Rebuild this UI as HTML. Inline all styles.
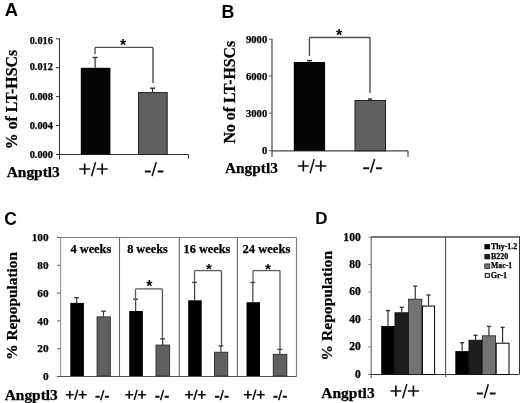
<!DOCTYPE html>
<html><head><meta charset="utf-8"><style>
html,body{margin:0;padding:0;background:#fff;width:520px;height:403px;overflow:hidden}
svg{display:block;filter:blur(0.3px)}
</style></head><body>
<svg width="520" height="403" viewBox="0 0 520 403">
<rect width="520" height="403" fill="#fff"/>
<text x="4.76" y="16.43" style="font-family:'Liberation Sans',sans-serif;font-weight:bold;font-size:18.38px" text-anchor="start">A</text>
<line x1="59.5" y1="38.5" x2="59.5" y2="159.5" stroke="#333" stroke-width="1"/>
<line x1="56" y1="38.8" x2="59.5" y2="38.8" stroke="#333" stroke-width="1"/>
<text x="52.90" y="44.20" style="font-family:'Liberation Serif',serif;font-weight:bold;stroke:#000;stroke-width:0.25px;font-size:10.32px" text-anchor="end">0.016</text>
<line x1="56" y1="67.6" x2="59.5" y2="67.6" stroke="#333" stroke-width="1"/>
<text x="52.90" y="70.30" style="font-family:'Liberation Serif',serif;font-weight:bold;stroke:#000;stroke-width:0.25px;font-size:10.32px" text-anchor="end">0.012</text>
<line x1="56" y1="96.6" x2="59.5" y2="96.6" stroke="#333" stroke-width="1"/>
<text x="52.90" y="99.80" style="font-family:'Liberation Serif',serif;font-weight:bold;stroke:#000;stroke-width:0.25px;font-size:10.32px" text-anchor="end">0.008</text>
<line x1="56" y1="125.5" x2="59.5" y2="125.5" stroke="#333" stroke-width="1"/>
<text x="52.90" y="129.30" style="font-family:'Liberation Serif',serif;font-weight:bold;stroke:#000;stroke-width:0.25px;font-size:10.32px" text-anchor="end">0.004</text>
<line x1="56" y1="154.5" x2="59.5" y2="154.5" stroke="#333" stroke-width="1"/>
<text x="52.90" y="157.60" style="font-family:'Liberation Serif',serif;font-weight:bold;stroke:#000;stroke-width:0.25px;font-size:10.32px" text-anchor="end">0.000</text>
<line x1="59.5" y1="154.5" x2="188.5" y2="154.5" stroke="#333" stroke-width="1"/>
<line x1="188.5" y1="154.5" x2="188.5" y2="158.5" stroke="#333" stroke-width="1"/>
<rect x="80.80" y="67.80" width="29.60" height="86.70" fill="#050505"/>
<rect x="138.50" y="92.60" width="28.70" height="61.90" fill="#606060" stroke="#222" stroke-width="1"/>
<line x1="95.1" y1="57.5" x2="95.1" y2="67.8" stroke="#2a2a2a" stroke-width="1.2"/>
<line x1="92.6" y1="57.5" x2="97.6" y2="57.5" stroke="#2a2a2a" stroke-width="1.38"/>
<line x1="152.5" y1="88.2" x2="152.5" y2="92.1" stroke="#2a2a2a" stroke-width="1.2"/>
<line x1="150.0" y1="88.2" x2="155.0" y2="88.2" stroke="#2a2a2a" stroke-width="1.38"/>
<line x1="95" y1="47.4" x2="153" y2="47.4" stroke="#505050" stroke-width="1.4"/>
<line x1="95" y1="47.4" x2="95" y2="54" stroke="#505050" stroke-width="1.4"/>
<line x1="153" y1="47.4" x2="153" y2="83" stroke="#505050" stroke-width="1.4"/>
<text x="119.89" y="51.02" style="font-family:'Liberation Sans',sans-serif;font-weight:bold;font-size:15.68px" text-anchor="start">*</text>
<text transform="translate(17.10,149.19) rotate(-90)" style="font-family:'Liberation Serif',serif;font-weight:bold;stroke:#000;stroke-width:0.25px;font-size:15.86px">% of LT-HSCs</text>
<text x="6.70" y="176.94" style="font-family:'Liberation Serif',serif;font-weight:bold;stroke:#000;stroke-width:0.25px;font-size:15.43px" text-anchor="start">Angptl3</text>
<path d="M79.20 169.00H90.20M84.70 163.50V174.50" stroke="#111" stroke-width="1.7" fill="none"/>
<path d="M91.50 176.20L95.60 162.10" stroke="#111" stroke-width="1.53" fill="none"/>
<path d="M96.70 169.00H107.70M102.20 163.50V174.50" stroke="#111" stroke-width="1.7" fill="none"/>
<path d="M144.80 171.50H150.80M157.70 171.50H163.50" stroke="#111" stroke-width="2.10" fill="none"/>
<path d="M152.10 176.10L156.20 162.30" stroke="#111" stroke-width="1.57" fill="none"/>
<text x="221.47" y="18.30" style="font-family:'Liberation Sans',sans-serif;font-weight:bold;font-size:17.83px" text-anchor="start">B</text>
<line x1="272" y1="39" x2="272" y2="157" stroke="#555" stroke-width="1.3"/>
<line x1="269" y1="39.2" x2="272" y2="39.2" stroke="#555" stroke-width="1"/>
<text x="267.20" y="42.70" style="font-family:'Liberation Serif',serif;font-weight:bold;stroke:#000;stroke-width:0.25px;font-size:10.62px" text-anchor="end">9000</text>
<line x1="269" y1="76" x2="272" y2="76" stroke="#555" stroke-width="1"/>
<text x="267.20" y="79.50" style="font-family:'Liberation Serif',serif;font-weight:bold;stroke:#000;stroke-width:0.25px;font-size:10.62px" text-anchor="end">6000</text>
<line x1="269" y1="113.2" x2="272" y2="113.2" stroke="#555" stroke-width="1"/>
<text x="267.20" y="116.70" style="font-family:'Liberation Serif',serif;font-weight:bold;stroke:#000;stroke-width:0.25px;font-size:10.62px" text-anchor="end">3000</text>
<line x1="269" y1="150.7" x2="272" y2="150.7" stroke="#555" stroke-width="1"/>
<text x="267.20" y="154.20" style="font-family:'Liberation Serif',serif;font-weight:bold;stroke:#000;stroke-width:0.25px;font-size:10.62px" text-anchor="end">0</text>
<line x1="272" y1="150.9" x2="408" y2="150.9" stroke="#444" stroke-width="1.3"/>
<line x1="408" y1="150.9" x2="408" y2="157" stroke="#555" stroke-width="1.2"/>
<rect x="293.80" y="62.00" width="31.30" height="88.80" fill="#050505"/>
<rect x="355.00" y="100.50" width="30.50" height="50.30" fill="#606060" stroke="#222" stroke-width="1"/>
<line x1="309.5" y1="60.6" x2="309.5" y2="62" stroke="#2a2a2a" stroke-width="1.2"/>
<line x1="307.0" y1="60.6" x2="312.0" y2="60.6" stroke="#2a2a2a" stroke-width="1.38"/>
<line x1="370" y1="99" x2="370" y2="100.5" stroke="#2a2a2a" stroke-width="1.2"/>
<line x1="368.0" y1="99" x2="372.0" y2="99" stroke="#2a2a2a" stroke-width="1.38"/>
<line x1="309.4" y1="37.5" x2="370" y2="37.5" stroke="#505050" stroke-width="1.4"/>
<line x1="309.4" y1="37.5" x2="309.4" y2="56" stroke="#505050" stroke-width="1.4"/>
<line x1="370" y1="37.5" x2="370" y2="93" stroke="#505050" stroke-width="1.4"/>
<text x="335.89" y="40.89" style="font-family:'Liberation Sans',sans-serif;font-weight:bold;font-size:16.22px" text-anchor="start">*</text>
<text transform="translate(235.09,143.52) rotate(-90)" style="font-family:'Liberation Serif',serif;font-weight:bold;stroke:#000;stroke-width:0.25px;font-size:15.84px">No of LT-HSCs</text>
<text x="225.05" y="172.87" style="font-family:'Liberation Serif',serif;font-weight:bold;stroke:#000;stroke-width:0.25px;font-size:15.32px" text-anchor="start">Angptl3</text>
<path d="M297.80 166.00H308.80M303.30 160.50V171.50" stroke="#111" stroke-width="1.7" fill="none"/>
<path d="M310.10 173.20L314.20 159.10" stroke="#111" stroke-width="1.53" fill="none"/>
<path d="M315.30 166.00H326.30M320.80 160.50V171.50" stroke="#111" stroke-width="1.7" fill="none"/>
<path d="M363.20 168.20H369.20M376.10 168.20H381.90" stroke="#111" stroke-width="2.10" fill="none"/>
<path d="M370.50 172.80L374.60 159.00" stroke="#111" stroke-width="1.57" fill="none"/>
<text x="4.18" y="224.63" style="font-family:'Liberation Sans',sans-serif;font-weight:bold;font-size:17.46px" text-anchor="start">C</text>
<line x1="60.6" y1="237.5" x2="60.6" y2="376.5" stroke="#a0a0a0" stroke-width="1.2"/>
<line x1="60.6" y1="237.5" x2="296.5" y2="237.5" stroke="#808080" stroke-width="1.2"/>
<line x1="296.5" y1="237.5" x2="296.5" y2="376.5" stroke="#808080" stroke-width="1.2"/>
<line x1="119.5" y1="237.5" x2="119.5" y2="376.5" stroke="#666" stroke-width="1.1"/>
<line x1="179.3" y1="237.5" x2="179.3" y2="376.5" stroke="#666" stroke-width="1.1"/>
<line x1="237.4" y1="237.5" x2="237.4" y2="376.5" stroke="#666" stroke-width="1.1"/>
<line x1="57" y1="237.5" x2="60.6" y2="237.5" stroke="#666" stroke-width="1"/>
<text x="48.60" y="241.20" style="font-family:'Liberation Serif',serif;font-weight:bold;stroke:#000;stroke-width:0.25px;font-size:11.30px" text-anchor="end">100</text>
<line x1="57" y1="265.3" x2="60.6" y2="265.3" stroke="#666" stroke-width="1"/>
<text x="48.60" y="269.00" style="font-family:'Liberation Serif',serif;font-weight:bold;stroke:#000;stroke-width:0.25px;font-size:11.30px" text-anchor="end">80</text>
<line x1="57" y1="293.1" x2="60.6" y2="293.1" stroke="#666" stroke-width="1"/>
<text x="48.60" y="296.80" style="font-family:'Liberation Serif',serif;font-weight:bold;stroke:#000;stroke-width:0.25px;font-size:11.30px" text-anchor="end">60</text>
<line x1="57" y1="320.9" x2="60.6" y2="320.9" stroke="#666" stroke-width="1"/>
<text x="48.60" y="324.60" style="font-family:'Liberation Serif',serif;font-weight:bold;stroke:#000;stroke-width:0.25px;font-size:11.30px" text-anchor="end">40</text>
<line x1="57" y1="348.7" x2="60.6" y2="348.7" stroke="#666" stroke-width="1"/>
<text x="48.60" y="352.40" style="font-family:'Liberation Serif',serif;font-weight:bold;stroke:#000;stroke-width:0.25px;font-size:11.30px" text-anchor="end">20</text>
<line x1="57" y1="376.5" x2="60.6" y2="376.5" stroke="#666" stroke-width="1"/>
<text x="48.60" y="380.20" style="font-family:'Liberation Serif',serif;font-weight:bold;stroke:#000;stroke-width:0.25px;font-size:11.30px" text-anchor="end">0</text>
<line x1="57" y1="376.5" x2="296.5" y2="376.5" stroke="#555" stroke-width="1"/>
<text x="70.48" y="253.32" style="font-family:'Liberation Serif',serif;font-weight:bold;stroke:#000;stroke-width:0.25px;font-size:12.35px" text-anchor="start">4 weeks</text>
<text x="127.13" y="253.29" style="font-family:'Liberation Serif',serif;font-weight:bold;stroke:#000;stroke-width:0.25px;font-size:12.31px" text-anchor="start">8 weeks</text>
<text x="183.52" y="253.29" style="font-family:'Liberation Serif',serif;font-weight:bold;stroke:#000;stroke-width:0.25px;font-size:12.30px" text-anchor="start">16 weeks</text>
<text x="242.50" y="253.47" style="font-family:'Liberation Serif',serif;font-weight:bold;stroke:#000;stroke-width:0.25px;font-size:12.57px" text-anchor="start">24 weeks</text>
<rect x="70.30" y="302.90" width="13.60" height="73.10" fill="#000"/>
<rect x="97.10" y="316.90" width="13.20" height="59.10" fill="#606060" stroke="#333" stroke-width="1"/>
<line x1="76.69999999999999" y1="297.7" x2="76.69999999999999" y2="302.9" stroke="#404040" stroke-width="1.2"/>
<line x1="74.29999999999998" y1="297.7" x2="79.1" y2="297.7" stroke="#404040" stroke-width="1.38"/>
<line x1="103.49999999999999" y1="311.2" x2="103.49999999999999" y2="316.9" stroke="#404040" stroke-width="1.2"/>
<line x1="101.09999999999998" y1="311.2" x2="105.89999999999999" y2="311.2" stroke="#404040" stroke-width="1.38"/>
<rect x="129.20" y="311.00" width="13.70" height="65.00" fill="#000"/>
<rect x="156.00" y="345.10" width="13.60" height="30.90" fill="#606060" stroke="#333" stroke-width="1"/>
<line x1="135.65" y1="299.2" x2="135.65" y2="311" stroke="#404040" stroke-width="1.2"/>
<line x1="133.25" y1="299.2" x2="138.05" y2="299.2" stroke="#404040" stroke-width="1.38"/>
<line x1="162.60000000000002" y1="338.8" x2="162.60000000000002" y2="345.1" stroke="#404040" stroke-width="1.2"/>
<line x1="160.20000000000002" y1="338.8" x2="165.00000000000003" y2="338.8" stroke="#404040" stroke-width="1.38"/>
<line x1="135.5" y1="288.9" x2="162.4" y2="288.9" stroke="#5e5e5e" stroke-width="1.3"/>
<line x1="135.5" y1="288.9" x2="135.5" y2="301.4" stroke="#5e5e5e" stroke-width="1.3"/>
<line x1="162.4" y1="288.9" x2="162.4" y2="338" stroke="#555" stroke-width="1.3"/>
<text x="146.29" y="292.30" style="font-family:'Liberation Sans',sans-serif;font-weight:bold;font-size:15.95px" text-anchor="start">*</text>
<rect x="188.20" y="300.30" width="13.50" height="75.70" fill="#000"/>
<rect x="214.50" y="352.30" width="13.20" height="23.70" fill="#606060" stroke="#333" stroke-width="1"/>
<line x1="194.54999999999998" y1="282.4" x2="194.54999999999998" y2="300.3" stroke="#404040" stroke-width="1.2"/>
<line x1="192.14999999999998" y1="282.4" x2="196.95" y2="282.4" stroke="#404040" stroke-width="1.38"/>
<line x1="220.9" y1="346" x2="220.9" y2="352.3" stroke="#404040" stroke-width="1.2"/>
<line x1="218.5" y1="346" x2="223.3" y2="346" stroke="#404040" stroke-width="1.38"/>
<line x1="194.5" y1="270.6" x2="221.5" y2="270.6" stroke="#5e5e5e" stroke-width="1.3"/>
<line x1="194.5" y1="270.6" x2="194.5" y2="282.4" stroke="#5e5e5e" stroke-width="1.3"/>
<line x1="221.5" y1="270.6" x2="221.5" y2="346" stroke="#555" stroke-width="1.3"/>
<text x="205.90" y="273.84" style="font-family:'Liberation Sans',sans-serif;font-weight:bold;font-size:15.14px" text-anchor="start">*</text>
<rect x="246.50" y="302.20" width="13.50" height="73.80" fill="#000"/>
<rect x="273.30" y="354.40" width="13.50" height="21.60" fill="#606060" stroke="#333" stroke-width="1"/>
<line x1="252.85" y1="282.5" x2="252.85" y2="302.2" stroke="#404040" stroke-width="1.2"/>
<line x1="250.45" y1="282.5" x2="255.25" y2="282.5" stroke="#404040" stroke-width="1.38"/>
<line x1="279.85" y1="349.4" x2="279.85" y2="354.4" stroke="#404040" stroke-width="1.2"/>
<line x1="277.45000000000005" y1="349.4" x2="282.25" y2="349.4" stroke="#404040" stroke-width="1.38"/>
<line x1="253" y1="270.6" x2="280" y2="270.6" stroke="#5e5e5e" stroke-width="1.3"/>
<line x1="253" y1="270.6" x2="253" y2="282.5" stroke="#5e5e5e" stroke-width="1.3"/>
<line x1="280" y1="270.6" x2="280" y2="349.4" stroke="#555" stroke-width="1.3"/>
<text x="264.95" y="273.84" style="font-family:'Liberation Sans',sans-serif;font-weight:bold;font-size:15.14px" text-anchor="start">*</text>
<text transform="translate(17.48,359.73) rotate(-90)" style="font-family:'Liberation Serif',serif;font-weight:bold;stroke:#000;stroke-width:0.25px;font-size:15.34px">% Repopulation</text>
<text x="4.70" y="399.94" style="font-family:'Liberation Serif',serif;font-weight:bold;stroke:#000;stroke-width:0.25px;font-size:15.43px" text-anchor="start">Angptl3</text>
<path d="M65.80 394.76H73.83M69.81 390.74V398.77" stroke="#111" stroke-width="1.7" fill="none"/>
<path d="M74.78 400.01L77.77 389.72" stroke="#111" stroke-width="1.53" fill="none"/>
<path d="M78.58 394.76H86.60M82.59 390.74V398.77" stroke="#111" stroke-width="1.7" fill="none"/>
<path d="M125.20 394.76H133.23M129.22 390.74V398.77" stroke="#111" stroke-width="1.7" fill="none"/>
<path d="M134.18 400.01L137.17 389.72" stroke="#111" stroke-width="1.53" fill="none"/>
<path d="M137.97 394.76H146.00M141.99 390.74V398.77" stroke="#111" stroke-width="1.7" fill="none"/>
<path d="M185.00 394.76H193.03M189.01 390.74V398.77" stroke="#111" stroke-width="1.7" fill="none"/>
<path d="M193.98 400.01L196.97 389.72" stroke="#111" stroke-width="1.53" fill="none"/>
<path d="M197.78 394.76H205.81M201.79 390.74V398.77" stroke="#111" stroke-width="1.7" fill="none"/>
<path d="M243.90 394.76H251.93M247.91 390.74V398.77" stroke="#111" stroke-width="1.7" fill="none"/>
<path d="M252.88 400.01L255.87 389.72" stroke="#111" stroke-width="1.53" fill="none"/>
<path d="M256.68 394.76H264.70M260.69 390.74V398.77" stroke="#111" stroke-width="1.7" fill="none"/>
<path d="M95.40 396.83H99.78M104.82 396.83H109.05" stroke="#111" stroke-width="2.04" fill="none"/>
<path d="M100.73 400.19L103.72 390.12" stroke="#111" stroke-width="1.53" fill="none"/>
<path d="M155.20 396.83H159.58M164.62 396.83H168.85" stroke="#111" stroke-width="2.04" fill="none"/>
<path d="M160.53 400.19L163.52 390.12" stroke="#111" stroke-width="1.53" fill="none"/>
<path d="M215.00 396.83H219.38M224.42 396.83H228.65" stroke="#111" stroke-width="2.04" fill="none"/>
<path d="M220.33 400.19L223.32 390.12" stroke="#111" stroke-width="1.53" fill="none"/>
<path d="M273.30 396.83H277.68M282.72 396.83H286.95" stroke="#111" stroke-width="2.04" fill="none"/>
<path d="M278.63 400.19L281.62 390.12" stroke="#111" stroke-width="1.53" fill="none"/>
<text x="315.34" y="224.10" style="font-family:'Liberation Sans',sans-serif;font-weight:bold;font-size:16.96px" text-anchor="start">D</text>
<line x1="371.2" y1="237" x2="371.2" y2="378" stroke="#707070" stroke-width="1.2"/>
<line x1="371.2" y1="237" x2="520" y2="237" stroke="#4a4a4a" stroke-width="1.3"/>
<line x1="519.5" y1="236.5" x2="519.5" y2="374.5" stroke="#333" stroke-width="1"/>
<line x1="445.6" y1="237" x2="445.6" y2="377" stroke="#555" stroke-width="1.1"/>
<line x1="368.5" y1="374.5" x2="519" y2="374.5" stroke="#333" stroke-width="1"/>
<line x1="368.5" y1="237.2" x2="371.2" y2="237.2" stroke="#777" stroke-width="1"/>
<text x="360.80" y="240.60" style="font-family:'Liberation Serif',serif;font-weight:bold;stroke:#000;stroke-width:0.25px;font-size:11.67px" text-anchor="end">100</text>
<line x1="368.5" y1="264.59999999999997" x2="371.2" y2="264.59999999999997" stroke="#777" stroke-width="1"/>
<text x="360.80" y="268.00" style="font-family:'Liberation Serif',serif;font-weight:bold;stroke:#000;stroke-width:0.25px;font-size:11.67px" text-anchor="end">80</text>
<line x1="368.5" y1="292.0" x2="371.2" y2="292.0" stroke="#777" stroke-width="1"/>
<text x="360.80" y="295.40" style="font-family:'Liberation Serif',serif;font-weight:bold;stroke:#000;stroke-width:0.25px;font-size:11.67px" text-anchor="end">60</text>
<line x1="368.5" y1="319.4" x2="371.2" y2="319.4" stroke="#777" stroke-width="1"/>
<text x="360.80" y="322.80" style="font-family:'Liberation Serif',serif;font-weight:bold;stroke:#000;stroke-width:0.25px;font-size:11.67px" text-anchor="end">40</text>
<line x1="368.5" y1="346.79999999999995" x2="371.2" y2="346.79999999999995" stroke="#777" stroke-width="1"/>
<text x="360.80" y="350.20" style="font-family:'Liberation Serif',serif;font-weight:bold;stroke:#000;stroke-width:0.25px;font-size:11.67px" text-anchor="end">20</text>
<line x1="368.5" y1="374.2" x2="371.2" y2="374.2" stroke="#777" stroke-width="1"/>
<text x="360.80" y="377.60" style="font-family:'Liberation Serif',serif;font-weight:bold;stroke:#000;stroke-width:0.25px;font-size:11.67px" text-anchor="end">0</text>
<rect x="381.20" y="326.00" width="13.60" height="48.50" fill="#000"/>
<line x1="388.0" y1="310.6" x2="388.0" y2="326" stroke="#333" stroke-width="1.2"/>
<line x1="386.0" y1="310.6" x2="390.0" y2="310.6" stroke="#333" stroke-width="1.38"/>
<rect x="394.90" y="312.70" width="13.70" height="61.80" fill="#1e1e1e" stroke="#000" stroke-width="0.6"/>
<line x1="401.75" y1="307.3" x2="401.75" y2="312.7" stroke="#333" stroke-width="1.2"/>
<line x1="399.75" y1="307.3" x2="403.75" y2="307.3" stroke="#333" stroke-width="1.38"/>
<rect x="408.60" y="299.10" width="13.30" height="75.40" fill="#737373" stroke="#000" stroke-width="0.6"/>
<line x1="415.25" y1="286.2" x2="415.25" y2="299.1" stroke="#333" stroke-width="1.2"/>
<line x1="413.25" y1="286.2" x2="417.25" y2="286.2" stroke="#333" stroke-width="1.38"/>
<rect x="422.40" y="306.10" width="12.20" height="68.40" fill="#fff" stroke="#000" stroke-width="1"/>
<line x1="428.5" y1="295" x2="428.5" y2="305.6" stroke="#333" stroke-width="1.2"/>
<line x1="426.5" y1="295" x2="430.5" y2="295" stroke="#333" stroke-width="1.38"/>
<rect x="455.30" y="351.10" width="13.60" height="23.40" fill="#000"/>
<line x1="462.1" y1="342.7" x2="462.1" y2="351.1" stroke="#333" stroke-width="1.2"/>
<line x1="460.1" y1="342.7" x2="464.1" y2="342.7" stroke="#333" stroke-width="1.38"/>
<rect x="468.90" y="340.10" width="13.30" height="34.40" fill="#1e1e1e" stroke="#000" stroke-width="0.6"/>
<line x1="475.54999999999995" y1="335.3" x2="475.54999999999995" y2="340.1" stroke="#333" stroke-width="1.2"/>
<line x1="473.54999999999995" y1="335.3" x2="477.54999999999995" y2="335.3" stroke="#333" stroke-width="1.38"/>
<rect x="482.20" y="335.80" width="13.50" height="38.70" fill="#737373" stroke="#000" stroke-width="0.6"/>
<line x1="488.95" y1="326.4" x2="488.95" y2="335.8" stroke="#333" stroke-width="1.2"/>
<line x1="486.95" y1="326.4" x2="490.95" y2="326.4" stroke="#333" stroke-width="1.38"/>
<rect x="496.20" y="343.20" width="12.80" height="31.30" fill="#fff" stroke="#000" stroke-width="1"/>
<line x1="502.6" y1="327.4" x2="502.6" y2="342.7" stroke="#333" stroke-width="1.2"/>
<line x1="500.6" y1="327.4" x2="504.6" y2="327.4" stroke="#333" stroke-width="1.38"/>
<rect x="484.80" y="244.40" width="5.00" height="4.60" fill="#000" stroke="#000" stroke-width="0.6"/>
<text x="491.04" y="249.07" style="font-family:'Liberation Serif',serif;font-weight:bold;stroke:#000;stroke-width:0.25px;font-size:7.93px" text-anchor="start">Thy-1.2</text>
<rect x="484.80" y="254.40" width="5.00" height="4.60" fill="#1e1e1e" stroke="#000" stroke-width="0.6"/>
<text x="491.04" y="258.74" style="font-family:'Liberation Serif',serif;font-weight:bold;stroke:#000;stroke-width:0.25px;font-size:7.91px" text-anchor="start">B220</text>
<rect x="484.80" y="263.90" width="5.00" height="4.60" fill="#737373" stroke="#000" stroke-width="0.6"/>
<text x="491.04" y="268.23" style="font-family:'Liberation Serif',serif;font-weight:bold;stroke:#000;stroke-width:0.25px;font-size:7.77px" text-anchor="start">Mac-1</text>
<rect x="485.30" y="273.70" width="4.00" height="3.60" fill="#fff" stroke="#000" stroke-width="1"/>
<text x="490.79" y="277.76" style="font-family:'Liberation Serif',serif;font-weight:bold;stroke:#000;stroke-width:0.25px;font-size:8.13px" text-anchor="start">Gr-1</text>
<text transform="translate(331.75,360.46) rotate(-90)" style="font-family:'Liberation Serif',serif;font-weight:bold;stroke:#000;stroke-width:0.25px;font-size:15.59px">% Repopulation</text>
<text x="321.35" y="398.27" style="font-family:'Liberation Serif',serif;font-weight:bold;stroke:#000;stroke-width:0.25px;font-size:15.47px" text-anchor="start">Angptl3</text>
<path d="M390.40 391.00H401.40M395.90 385.50V396.50" stroke="#111" stroke-width="1.7" fill="none"/>
<path d="M402.70 398.20L406.80 384.10" stroke="#111" stroke-width="1.53" fill="none"/>
<path d="M407.90 391.00H418.90M413.40 385.50V396.50" stroke="#111" stroke-width="1.7" fill="none"/>
<path d="M476.90 393.50H482.90M489.80 393.50H495.60" stroke="#111" stroke-width="2.10" fill="none"/>
<path d="M484.20 398.10L488.30 384.30" stroke="#111" stroke-width="1.57" fill="none"/>
</svg>
</body></html>
